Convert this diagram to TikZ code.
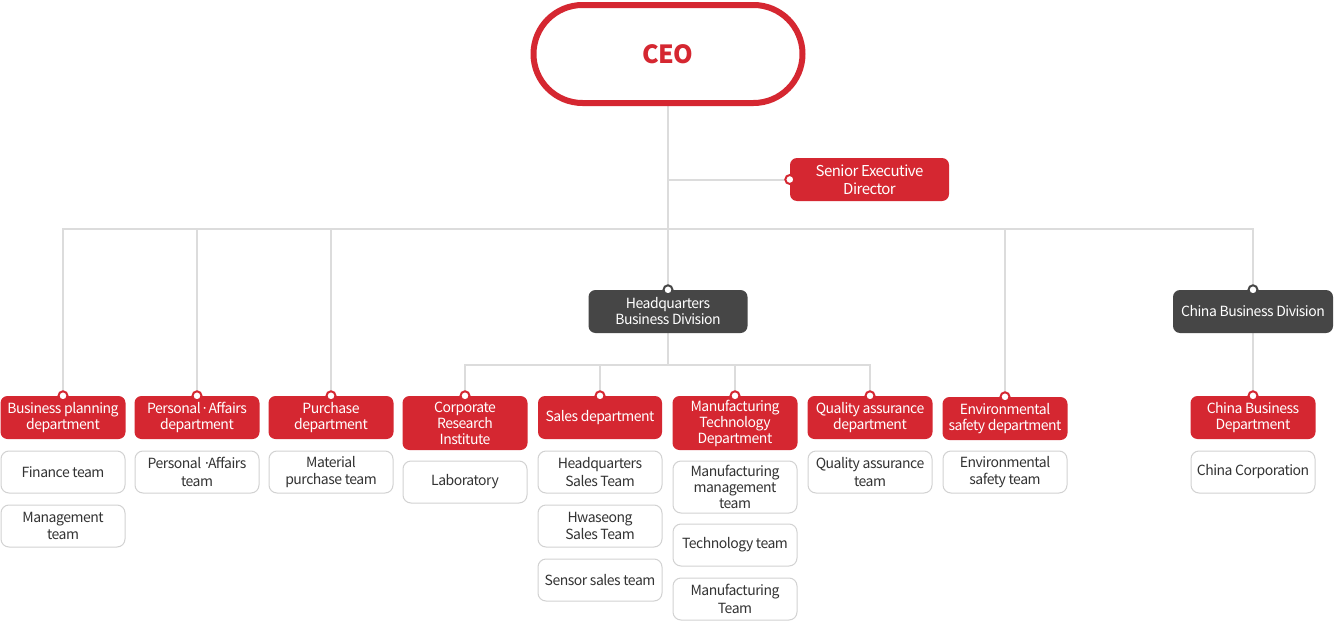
\documentclass[tikz,border=0pt]{standalone}
\usepackage{fontspec}
\setmainfont{Noto Sans CJK KR}[LetterSpace=-3.5]
\usetikzlibrary{backgrounds}
\definecolor{cred}{HTML}{D52731}
\definecolor{cgray}{HTML}{464646}
\definecolor{linegray}{HTML}{DCDCDC}
\definecolor{tgray}{HTML}{D2D2D2}
\definecolor{ctext}{HTML}{333333}
\newcommand{\pdot}{{\kern0pt}·{\kern0pt}}
\newcommand{\pdott}{{\kern2pt}·{\kern-3pt}}
\tikzset{
 conn/.style={draw=linegray, line width=2pt},
 dept/.style={fill=cred, text=white, rounded corners=7pt, minimum width=125pt, minimum height=43pt, inner sep=0pt, align=center, font=\fontsize{14}{16}\selectfont},
 div/.style={dept, fill=cgray, minimum width=159pt},
 team/.style={draw=tgray, line width=1pt, fill=white, rounded corners=8pt, minimum width=124pt, minimum height=42pt, inner sep=0pt, align=center, font=\fontsize{14}{17.5}\selectfont, text=ctext},
 rdot/.style={circle, draw=cred, fill=white, line width=2pt, minimum size=9pt, inner sep=0pt},
 gdot/.style={rdot, draw=cgray},
}
\begin{document}
\begin{tikzpicture}[x=1pt,y=-1pt]
\useasboundingbox (0,0) rectangle (1334,621);
% top
\node[draw=cred, line width=6pt, fill=white, rounded corners=49pt, minimum width=269pt, minimum height=98pt, inner sep=0pt, text=cred, font=\fontsize{25}{28}\selectfont\bfseries] (ceo) at (668,54) {CEO};
\node[dept, minimum width=159pt, font=\fontsize{15}{18}\selectfont] (sed) at (869.5,179.5) {Senior Executive\\Director};
\node[div] (hq) at (668,311.5) {Headquarters\\Business Division};
\node[div, minimum width=160pt] (cbd) at (1253,311.5) {China Business Division};
% departments
\node[dept] (bp) at (63,417.5) {Business planning\\department};
\node[dept] (pa) at (197,417.5) {Personal\pdot Affairs\\department};
\node[dept] (pu) at (331,417.5) {Purchase\\department};
\node[dept, minimum height=54pt] (cri) at (465,423) {Corporate\\Research\\Institute};
\node[dept, minimum width=124pt] (sal) at (600,417.5) {Sales department};
\node[dept, minimum height=54pt] (mtd) at (735,423) {Manufacturing\\Technology\\Department};
\node[dept] (qa) at (870,417.5) {Quality assurance\\department};
\node[dept] (env) at (1005,418.5) {Environmental\\safety department};
\node[dept] (cbdep) at (1253,417.5) {China Business\\Department};
% teams
\node[team] (fin) at (63,472) {Finance team};
\node[team] (mgmt) at (63,526) {Management\\team};
\node[team] (pat) at (197,472) {Personal\pdott Affairs\\team};
\node[team] (mat) at (331,472) {Material\\purchase team};
\node[team] (lab) at (465,482) {Laboratory};
\node[team] (hqs) at (600,472) {Headquarters\\Sales Team};
\node[team] (hws) at (600,526) {Hwaseong\\Sales Team};
\node[team] (sen) at (600,580) {Sensor sales team};
\node[team, minimum height=52pt, font=\fontsize{14}{16}\selectfont] (mm) at (735,487) {Manufacturing\\management\\team};
\node[team] (tech) at (735,545) {Technology team};
\node[team] (mfg) at (735,599) {Manufacturing\\Team};
\node[team] (qat) at (870,472) {Quality assurance\\team};
\node[team] (envt) at (1005,472) {Environmental\\safety team};
\node[team] (cc) at (1253,472) {China Corporation};
% connectors
\coordinate (bus) at (668,229);
\coordinate (hqbus) at (668,365);
\begin{scope}[on background layer]
\fill[white] (0,0) rectangle (1334,621);
\draw[conn] (ceo.south) -- (hq.north);
\draw[conn] (sed.west) -| (ceo.south);
\draw[conn] (bp.north) |- (bus);
\draw[conn] (pa.north) |- (bus);
\draw[conn] (pu.north) |- (bus);
\draw[conn] (env.north) |- (bus);
\draw[conn] (cbd.north) |- (bus);
\draw[conn] (hq.south) -- (hqbus);
\draw[conn] (cri.north) |- (hqbus);
\draw[conn] (sal.north) |- (hqbus);
\draw[conn] (mtd.north) |- (hqbus);
\draw[conn] (qa.north) |- (hqbus);
\draw[conn] (cbd.south) -- (cbdep.north);
\end{scope}
% dots
\node[rdot] (seddot) at (sed.west) {};
\node[gdot] (hqdot) at (hq.north) {};
\node[gdot] (cbddot) at (cbd.north) {};
\node[rdot] (bpdot) at (bp.north) {};
\node[rdot] (padot) at (pa.north) {};
\node[rdot] (pudot) at (pu.north) {};
\node[rdot] (cridot) at (cri.north) {};
\node[rdot] (saldot) at (sal.north) {};
\node[rdot] (mtddot) at (mtd.north) {};
\node[rdot] (qadot) at (qa.north) {};
\node[rdot] (envdot) at (env.north) {};
\node[rdot] (cbdepdot) at (cbdep.north) {};
\end{tikzpicture}
\end{document}
